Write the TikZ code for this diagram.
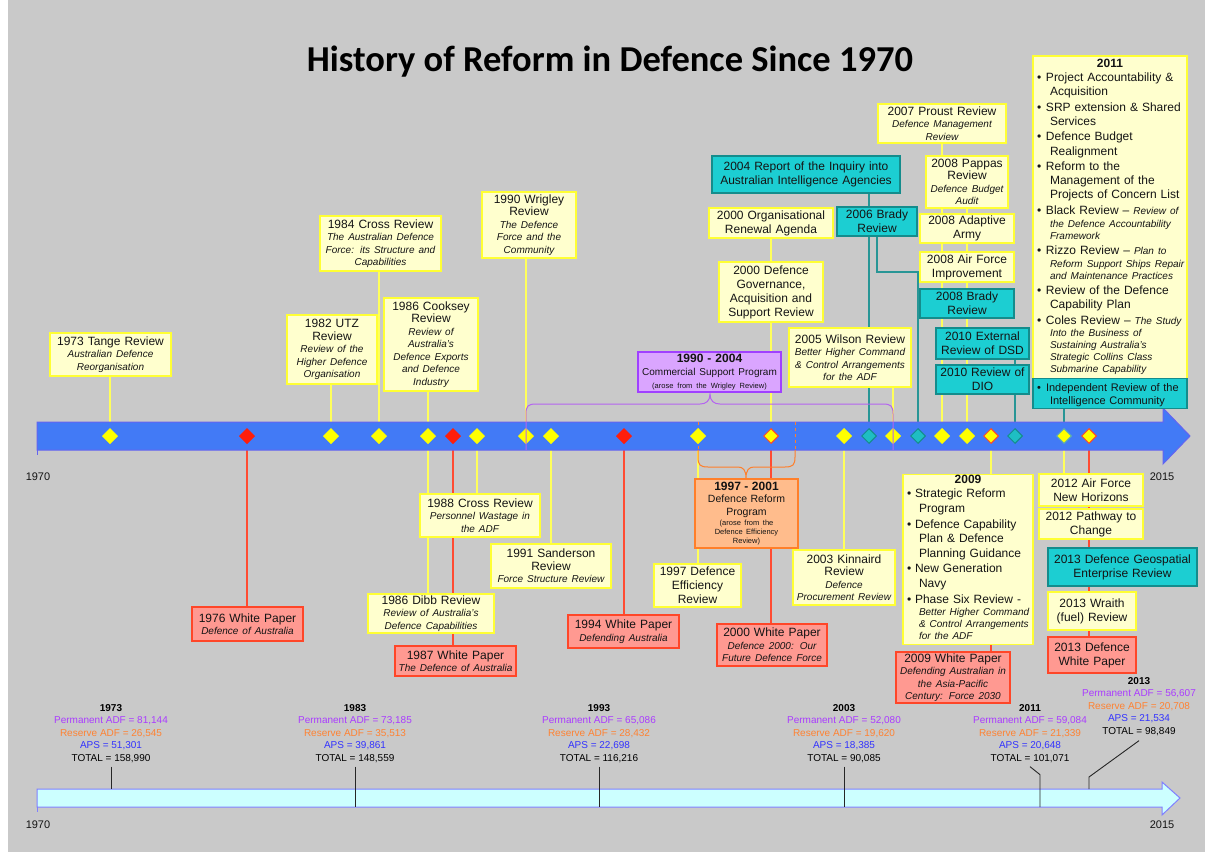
\documentclass[tikz,border=0pt]{standalone}
\usepackage{fontspec}
\setmainfont{Liberation Sans}
\newfontfamily\titlefont{Carlito}
\usetikzlibrary{shapes.geometric}

\definecolor{bgray}{RGB}{201,201,201}
\definecolor{yfill}{RGB}{255,255,206}
\definecolor{yedge}{RGB}{255,255,51}
\definecolor{rfill}{RGB}{255,153,145}
\definecolor{redge}{RGB}{255,70,40}
\definecolor{tfill}{RGB}{28,206,210}
\definecolor{tedge}{RGB}{20,140,140}
\definecolor{pfill}{RGB}{218,165,255}
\definecolor{pedge}{RGB}{160,64,255}
\definecolor{ofill}{RGB}{255,188,140}
\definecolor{oedge}{RGB}{255,127,42}
\definecolor{bandblue}{RGB}{66,122,246}
\definecolor{bandedge}{RGB}{100,100,240}
\definecolor{lband}{RGB}{204,255,255}
\definecolor{lbandedge}{RGB}{128,128,255}
\definecolor{dyel}{RGB}{255,255,0}
\definecolor{dred}{RGB}{255,30,10}
\definecolor{dteal}{RGB}{30,190,195}
\definecolor{yline}{RGB}{255,255,90}
\definecolor{rline}{RGB}{255,75,50}
\definecolor{tline}{RGB}{40,150,150}
\definecolor{stpurple}{RGB}{170,60,255}
\definecolor{storange}{RGB}{255,130,50}
\definecolor{stblue}{RGB}{50,50,255}
\definecolor{txt}{RGB}{20,20,20}
\definecolor{bracep}{RGB}{180,100,240}

\pgfdeclarelayer{back}
\pgfdeclarelayer{lines}
\pgfsetlayers{back,lines,main}

\newcommand\mfont{\fontsize{12}{14}\selectfont}
\newcommand\xfont{\fontsize{12}{12.5}\selectfont}
\newcommand\subi[1]{\mbox{\fontsize{10}{12}\selectfont\itshape #1}}
\newcommand\tinyl[1]{\mbox{\fontsize{7.5}{9}\selectfont #1}}
% bullet item: #1 hang indent, #2 item text width, #3 first-line back shift, #4 text
\newcommand\bitem[4]{\par\noindent\makebox[#1pt][l]{\hspace{1pt}\textbullet}\parbox[t]{#2pt}{\raggedright\strut\hspace*{-#3pt}#4\strut}}

\tikzset{
  box/.style={draw, line width=1.1pt, inner xsep=0pt, inner ysep=0pt, align=center, text=txt, font=\mfont},
  bx/.style 2 args={minimum width=#1pt, minimum height=#2pt, text width=#1pt},
  ybox/.style={box, fill=yfill, draw=yedge},
  rbox/.style={box, fill=rfill, draw=redge},
  tbox/.style={box, fill=tfill, draw=tedge},
  pbox/.style={box, fill=pfill, draw=pedge},
  obox/.style={box, fill=ofill, draw=oedge},
  mix/.style={font=\xfont},
  listbox/.style={align=left, inner xsep=3pt},
  dia/.style={diamond, minimum width=15pt, minimum height=15pt, inner sep=0pt, line width=1pt},
  ydia/.style={dia, fill=dyel, draw=dyel},
  rdia/.style={dia, fill=dred, draw=dred},
  tdia/.style={dia, fill=dteal, draw=tedge},
  odia/.style={dia, fill=dyel, draw=redge},
  gdia/.style={dia, fill=dyel, draw=tedge!70},
  yl/.style={draw=yline, line width=1.2pt},
  rl/.style={draw=rline, line width=1.2pt},
  tl/.style={draw=tline, line width=1.2pt},
  stat/.style={anchor=north, align=center, inner sep=0pt, font=\fontsize{10}{12.5}\selectfont},
  yr/.style={font=\fontsize{11}{13}\selectfont, inner sep=0pt, text=txt},
  tick/.style={draw=black!85, line width=0.9pt},
}

\begin{document}
\begin{tikzpicture}[x=1pt,y=-1pt]
\useasboundingbox (0,0) rectangle (1205,852);
\begin{pgfonlayer}{back}
\fill[white] (0,0) rectangle (1205,852);
\fill[bgray] (8,0) rectangle (1205,852);
\end{pgfonlayer}

% title
\node[font=\titlefont\bfseries\fontsize{36.5}{40}\selectfont, anchor=base, text=black] (title) at (610,71) {History of Reform in Defence Since 1970};

% main band
\draw[fill=bandblue, draw=bandedge, line width=1pt] (37,422) -- (1163,422) -- (1163,408) -- (1190,436) -- (1163,464) -- (1163,450) -- (37,450) -- cycle;
\draw[draw=bandedge, line width=1pt] (37,450) -- (37,455);
% bottom band
\draw[fill=lband, draw=lbandedge, line width=1pt] (37,789) -- (1162,789) -- (1162,782) -- (1180,798) -- (1162,815) -- (1162,807) -- (37,807) -- cycle;
\draw[draw=lbandedge, line width=1pt] (37,807) -- (37,812);

% orange brace (below band)
\draw[oedge, line width=0.8pt, dashed] (698,422) -- (698,450);
\draw[oedge, line width=0.8pt, dashed] (795,422) -- (795,450);
\draw[oedge, line width=1pt] (698,450) -- (698,457) .. controls (698,465) and (700,467) .. (708,467) -- (738,467) .. controls (743,467) and (746,470) .. (746,478) .. controls (746,470) and (749,467) .. (754,467) -- (785,467) .. controls (793,467) and (795,465) .. (795,457) -- (795,450);

% year labels
\node[yr] (y1970a) at (38,477) {1970};
\node[yr] (y2015a) at (1162,477) {2015};
\node[yr] (y1970b) at (38,825) {1970};
\node[yr] (y2015b) at (1162,825) {2015};

% diamonds
\node[ydia] (d1973) at (110,436) {};
\node[rdia] (d1976) at (247,436) {};
\node[ydia] (d1982) at (331,436) {};
\node[ydia] (d1984) at (379,436) {};
\node[ydia] (d1986) at (428,436) {};
\node[rdia] (d1987) at (453,436) {};
\node[ydia] (d1988) at (477,436) {};
\node[ydia] (d1990) at (526,436) {};
\node[ydia] (d1991) at (551,436) {};
\node[rdia] (d1994) at (624,436) {};
\node[ydia] (d1997) at (698,436) {};
\node[odia] (d2000) at (771,436) {};
\node[ydia] (d2003) at (844,436) {};
\node[tdia] (d2004) at (869,436) {};
\node[ydia] (d2005) at (893,436) {};
\node[tdia] (d2006) at (918,436) {};
\node[ydia] (d2007) at (942,436) {};
\node[ydia] (d2008) at (967,436) {};
\node[odia] (d2009) at (991,436) {};
\node[tdia] (d2010) at (1015,436) {};
\node[gdia] (d2012) at (1064,436) {};
\node[odia] (d2013) at (1089,436) {};

% purple brace (above band)
\draw[bracep, line width=1pt] (526,450) -- (526,414) .. controls (526,406) and (528,404) .. (536,404) -- (700,404) .. controls (706,404) and (710,401) .. (710,394) .. controls (710,401) and (714,404) .. (720,404) -- (883,404) .. controls (891,404) and (893,406) .. (893,414) -- (893,450);

% upper boxes
\node[ybox, mix, bx={121}{43}] (tange) at (110.5,354.5) {1973 Tange Review\\ \subi{Australian Defence}\\ \subi{Reorganisation}};
\node[ybox, mix, bx={90}{69}] (utz) at (332,349.5) {1982 UTZ\\ Review\\ \subi{Review of the}\\ \subi{Higher Defence}\\ \subi{Organisation}};
\node[ybox, mix, bx={121}{55}] (cross84) at (380.5,243.5) {1984 Cross Review\\ \subi{The Australian Defence}\\ \subi{Force: its Structure and}\\ \subi{Capabilities}};
\node[ybox, mix, bx={94}{93}] (cooksey) at (431,344.5) {1986 Cooksey\\ Review\\ \subi{Review of}\\ \subi{Australia's}\\ \subi{Defence Exports}\\ \subi{and Defence}\\ \subi{Industry}};
\node[ybox, mix, bx={94}{66}] (wrigley) at (529,225) {1990 Wrigley\\ Review\\ \subi{The Defence}\\ \subi{Force and the}\\ \subi{Community}};
\node[pbox, bx={143}{40}] (csp) at (709.5,372) {\textbf{1990 - 2004}\\[-1pt] \mbox{\fontsize{10}{12}\selectfont Commercial Support Program}\\[-1pt] \tinyl{(arose from the Wrigley Review)}};
\node[ybox, bx={124}{30}] (ora) at (771,223) {2000 Organisational\\ Renewal Agenda};
\node[ybox, bx={104}{60}] (dgasr) at (771,292) {2000 Defence\\ Governance,\\ Acquisition and\\ Support Review};
\node[tbox, bx={188}{37}] (inquiry) at (806,174.5) {2004 Report of the Inquiry into\\ Australian Intelligence Agencies};
\node[tbox, bx={80}{29}] (brady06) at (877,221.5) {2006 Brady\\ Review};
\node[ybox, mix, bx={122}{59}] (wilson) at (850,357.5) {2005 Wilson Review\\ \subi{Better Higher Command}\\ \subi{\& Control Arrangements}\\ \subi{for the ADF}};
\node[ybox, mix, bx={128}{39}] (proust) at (942,123.5) {2007 Proust Review\\ \subi{Defence Management}\\ \subi{Review}};
\node[ybox, mix, bx={82}{52}] (pappas) at (967,182) {2008 Pappas\\ Review\\ \subi{Defence Budget}\\ \subi{Audit}};
\node[ybox, bx={94}{29}] (adaptive) at (967,228.5) {2008 Adaptive\\ Army};
\node[ybox, bx={94}{30}] (airforce08) at (967,267) {2008 Air Force\\ Improvement};
\node[tbox, bx={94}{29}] (brady08) at (967,303.5) {2008 Brady\\ Review};
\node[tbox, bx={93}{31}] (dsd) at (982.5,343.5) {2010 External\\ Review of DSD};
\node[tbox, bx={93}{29}] (dio) at (982.5,379.5) {2010 Review of\\ DIO};
\node[ybox, bx={154}{324}, listbox, text width=148pt, font=\fontsize{12}{14.3}\selectfont] (box2011) at (1110,218) {%
\centerline{\bfseries 2011}
\bitem{14}{134}{4}{Project Accountability \&\\ Acquisition}
\bitem{14}{134}{4}{SRP extension \& Shared\\ Services}
\bitem{14}{134}{4}{Defence Budget\\ Realignment}
\bitem{14}{134}{4}{Reform to the\\ Management of the\\ Projects of Concern List}
\bitem{14}{134}{4}{Black Review -- \subi{Review of}\\[-1.5pt] \subi{the Defence Accountability}\\[-2.3pt] \subi{Framework}}
\bitem{14}{134}{4}{Rizzo Review -- \subi{Plan to}\\[-1.5pt] \subi{Reform Support Ships Repair}\\[-2.3pt] \subi{and Maintenance Practices}}
\bitem{14}{134}{4}{Review of the Defence\\ Capability Plan}
\bitem{14}{134}{4}{Coles Review -- \subi{The Study}\\[-1.5pt] \subi{Into the Business of}\\[-2.3pt] \subi{Sustaining Australia's}\\[-2.3pt] \subi{Strategic Collins Class}\\[-2.3pt] \subi{Submarine Capability}}};
\node[tbox, bx={154}{27}, listbox, text width=148pt, font=\fontsize{11}{13}\selectfont] (ir) at (1110,393.5) {\bitem{14}{134}{4}{Independent Review of the\\ Intelligence Community}};

% lower boxes
\node[rbox, mix, bx={111}{34}] (wp76) at (247.5,624) {1976 White Paper\\ \subi{Defence of Australia}};
\node[ybox, mix, bx={120}{43}] (cross88) at (480,515.5) {1988 Cross Review\\ \subi{Personnel Wastage in}\\ \subi{the ADF}};
\node[ybox, mix, bx={126}{39}] (dibb) at (431,613.5) {1986 Dibb Review\\ \subi{Review of Australia's}\\ \subi{Defence Capabilities}};
\node[rbox, mix, bx={121}{30}] (wp87) at (455.5,661) {1987 White Paper\\ \subi{The Defence of Australia}};
\node[ybox, mix, bx={120}{44}] (sanderson) at (551,566) {1991 Sanderson\\ Review\\ \subi{Force Structure Review}};
\node[rbox, mix, bx={111}{33}] (wp94) at (623.5,631.5) {1994 White Paper\\ \subi{Defending Australia}};
\node[obox, bx={103}{69}, font=\fontsize{10.5}{12.5}\selectfont] (drp) at (746.5,513.5) {\mbox{\fontsize{12}{12.5}\selectfont\bfseries 1997 - 2001}\\ Defence Reform\\ Program\\[-2.5pt] \tinyl{(arose from the}\\[-3.5pt] \tinyl{Defence Efficiency}\\[-3.5pt] \tinyl{Review)}};
\node[ybox, bx={87}{43}] (der) at (697.5,585.5) {1997 Defence\\ Efficiency\\ Review};
\node[rbox, mix, bx={110}{42}] (wp00) at (772,645) {2000 White Paper\\ \subi{Defence 2000: Our}\\ \subi{Future Defence Force}};
\node[ybox, mix, bx={102}{55}] (kinnaird) at (844,577.5) {2003 Kinnaird\\ Review\\ \subi{Defence}\\ \subi{Procurement Review}};
\node[ybox, bx={130}{169}, listbox, text width=124pt, font=\fontsize{12}{14.6}\selectfont] (box2009) at (968,559.5) {%
\centerline{\bfseries 2009}
\bitem{13}{111}{4}{Strategic Reform\\ Program}
\bitem{13}{111}{4}{Defence Capability\\ Plan \& Defence\\ Planning Guidance}
\bitem{13}{111}{4}{New Generation\\ Navy}
\bitem{13}{111}{4}{Phase Six Review -\\[-2pt] \subi{Better Higher Command}\\[-2.5pt] \subi{\& Control Arrangements}\\[-2.5pt] \subi{for the ADF}}};
\node[rbox, mix, bx={114}{51}] (wp09) at (953,677.5) {2009 White Paper\\ \subi{Defending Australian in}\\ \subi{the Asia-Pacific}\\ \subi{Century: Force 2030}};
\node[ybox, bx={104}{32}] (afnh) at (1091,490) {2012 Air Force\\ New Horizons};
\node[ybox, bx={104}{30}] (ptc) at (1091,524) {2012 Pathway to\\ Change};
\node[tbox, bx={149}{38}] (geo) at (1122.5,567) {2013 Defence Geospatial\\ Enterprise Review};
\node[ybox, bx={88}{38}] (wraith) at (1092,611) {2013 Wraith\\ (fuel) Review};
\node[rbox, bx={88}{36}] (wp13) at (1092,655) {2013 Defence\\ White Paper};

% statistics
\node[stat] (s1973) at (111,704) {\textbf{1973}\\ \textcolor{stpurple}{Permanent ADF = 81,144}\\ \textcolor{storange}{Reserve ADF = 26,545}\\ \textcolor{stblue}{APS = 51,301}\\ TOTAL = 158,990};
\node[stat] (s1983) at (355,704) {\textbf{1983}\\ \textcolor{stpurple}{Permanent ADF = 73,185}\\ \textcolor{storange}{Reserve ADF = 35,513}\\ \textcolor{stblue}{APS = 39,861}\\ TOTAL = 148,559};
\node[stat] (s1993) at (599,704) {\textbf{1993}\\ \textcolor{stpurple}{Permanent ADF = 65,086}\\ \textcolor{storange}{Reserve ADF = 28,432}\\ \textcolor{stblue}{APS = 22,698}\\ TOTAL = 116,216};
\node[stat] (s2003) at (844,704) {\textbf{2003}\\ \textcolor{stpurple}{Permanent ADF = 52,080}\\ \textcolor{storange}{Reserve ADF = 19,620}\\ \textcolor{stblue}{APS = 18,385}\\ TOTAL = 90,085};
\node[stat] (s2011) at (1030,704) {\textbf{2011}\\ \textcolor{stpurple}{Permanent ADF = 59,084}\\ \textcolor{storange}{Reserve ADF = 21,339}\\ \textcolor{stblue}{APS = 20,648}\\ TOTAL = 101,071};
\node[stat] (s2013) at (1139,677) {\textbf{2013}\\ \textcolor{stpurple}{Permanent ADF = 56,607}\\ \textcolor{storange}{Reserve ADF = 20,708}\\ \textcolor{stblue}{APS = 21,534}\\ TOTAL = 98,849};

\coordinate (bt) at (0,789);
\coordinate (bb) at (0,807);
\coordinate (k2013) at (1089,777);
\coordinate (t2013) at (1089,789);
\coordinate (t2011) at (1040,807);
\draw[tick] ([yshift=-4pt]s1973.south) -- (s1973.south |- bt);
\draw[tick] ([yshift=-4pt]s1983.south) -- (s1983.south |- bb);
\draw[tick] ([yshift=-4pt]s1993.south) -- (s1993.south |- bb);
\draw[tick] ([yshift=-4pt]s2003.south) -- (s2003.south |- bb);
\draw[tick] ([yshift=-4pt]s2011.south) -- ++(10,8) -- (t2011);
\draw[tick] ([yshift=-5pt]s2013.south) -- (k2013) -- (t2013);

% connectors
\begin{pgfonlayer}{lines}
\draw[yl] (d1973.center) -- (d1973.center |- tange.south);
\draw[rl] (d1976.center) -- (d1976.center |- wp76.north);
\draw[yl] (d1982.center) -- (d1982.center |- utz.south);
\draw[yl] (d1984.center) -- (d1984.center |- cross84.south);
\draw[yl] (d1986.center) -- (d1986.center |- cooksey.south);
\draw[yl] (d1986.center) -- (d1986.center |- dibb.north);
\draw[rl] (d1987.center) -- (d1987.center |- wp87.north);
\draw[yl] (d1988.center) -- (d1988.center |- cross88.north);
\draw[yl] (d1990.center) -- (d1990.center |- wrigley.south);
\draw[yl] (d1991.center) -- (d1991.center |- sanderson.north);
\draw[rl] (d1994.center) -- (d1994.center |- wp94.north);
\draw[yl] (d1997.center) -- (d1997.center |- der.north);
\draw[yl] (d2000.center) -- (d2000.center |- ora.south);
\draw[rl] (d2000.center) -- (d2000.center |- wp00.north);
\draw[yl] (d2003.center) -- (d2003.center |- kinnaird.north);
\draw[tl] (d2004.center) -- (d2004.center |- inquiry.south);
\draw[yl] (d2005.center) -- (d2005.center |- wilson.south);
\draw[tl] (d2006.center) -- ++(0,-164) -| (brady06.south);
\draw[yl] (d2007.center) -- (d2007.center |- proust.south);
\draw[yl] (d2008.center) -- (d2008.center |- pappas.south);
\draw[yl] (d2009.center) -- (d2009.center |- box2009.north);
\draw[rl] (d2009.center |- box2009.south) -- (d2009.center |- wp09.north);
\draw[tl] (d2010.center) -- (d2010.center |- dsd.south);
\draw[tl] (d2012.center) -- (d2012.center |- ir.south);
\draw[yl] (d2012.center) -- (d2012.center |- afnh.north);
\draw[rl] (d2013.center) -- (d2013.center |- wp13.north);
\end{pgfonlayer}
\end{tikzpicture}
\end{document}
